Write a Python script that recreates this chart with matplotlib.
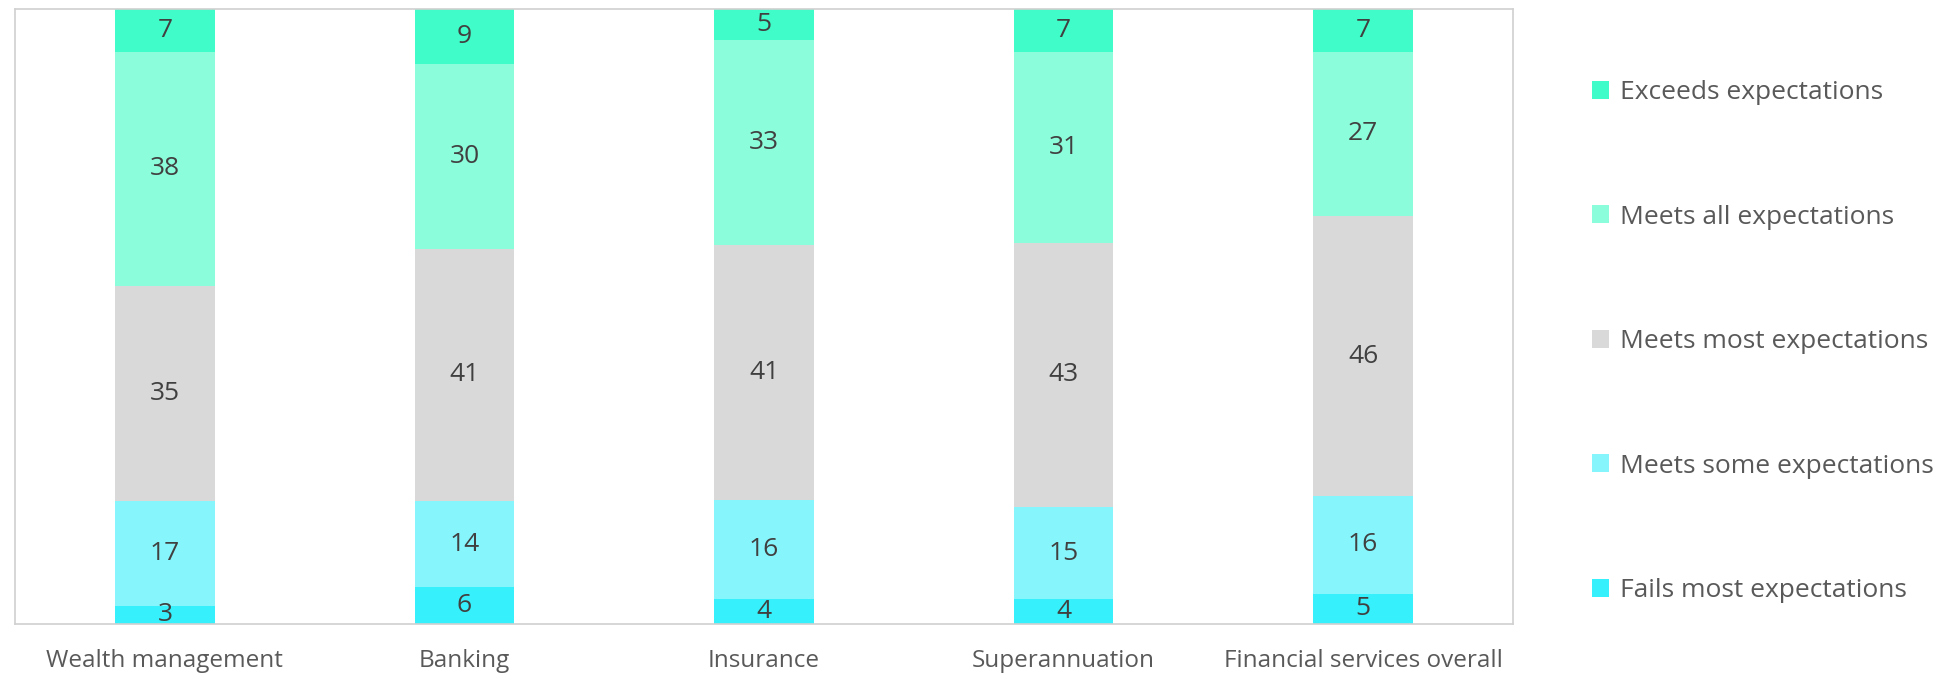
import numpy as np
import matplotlib.pyplot as plt

plt.rcParams['font.family'] = ['Open Sans', 'DejaVu Sans']

categories = ["Wealth management", "Banking", "Insurance", "Superannuation",
              "Financial services overall"]
series = ["Fails most expectations", "Meets some expectations",
          "Meets most expectations", "Meets all expectations",
          "Exceeds expectations"]
fails = [3, 6, 4, 4, 5]
some = [17, 14, 16, 15, 16]
most = [35, 41, 41, 43, 46]
meets_all = [38, 30, 33, 31, 27]
exceeds = [7, 9, 5, 7, 7]
colors = ["#36F0FB", "#87F6FC", "#D9D9D9", "#8CFDDB", "#40FCC8"]

values = np.array([fails, some, most, meets_all, exceeds], dtype=float)
# 100% stacked: each bar scaled to its own total
shares = values / values.sum(axis=0) * 100

fig = plt.figure(figsize=(19.57, 6.75), dpi=100)
ax = fig.add_axes([0.0077, 0.0756, 0.7654, 0.911])

x = np.arange(len(categories))
bottom = np.zeros(len(categories))
handles = []
for name, vals, sh, col in zip(series, values, shares, colors):
    bars = ax.bar(x, sh, width=0.333, bottom=bottom, color=col, label=name)
    handles.append(bars)
    for xi, b, v, s in zip(x, bottom, vals, sh):
        ax.text(xi, b + s / 2, f"{int(v)}", ha='center', va='center',
                fontsize=19, color='#404040')
    bottom += sh

ax.set_xlim(-0.5, len(categories) - 0.5)
ax.set_ylim(0, 100)
ax.set_yticks([])
ax.set_xticks(x)
ax.set_xticklabels(categories, fontsize=17.5, color='#595959')
ax.tick_params(axis='x', length=0, pad=18)
for s in ax.spines.values():
    s.set_color('#D0D0D0')
    s.set_linewidth(1.2)

leg = fig.legend(handles[::-1], series[::-1], loc='center left',
                 bbox_to_anchor=(0.808, 0.494), frameon=False, fontsize=19,
                 handlelength=0.65, handleheight=0.65, handletextpad=0.4,
                 labelspacing=3.77, borderaxespad=0)
for t in leg.get_texts():
    t.set_color('#595959')

fig.savefig("out.png", dpi=100)
